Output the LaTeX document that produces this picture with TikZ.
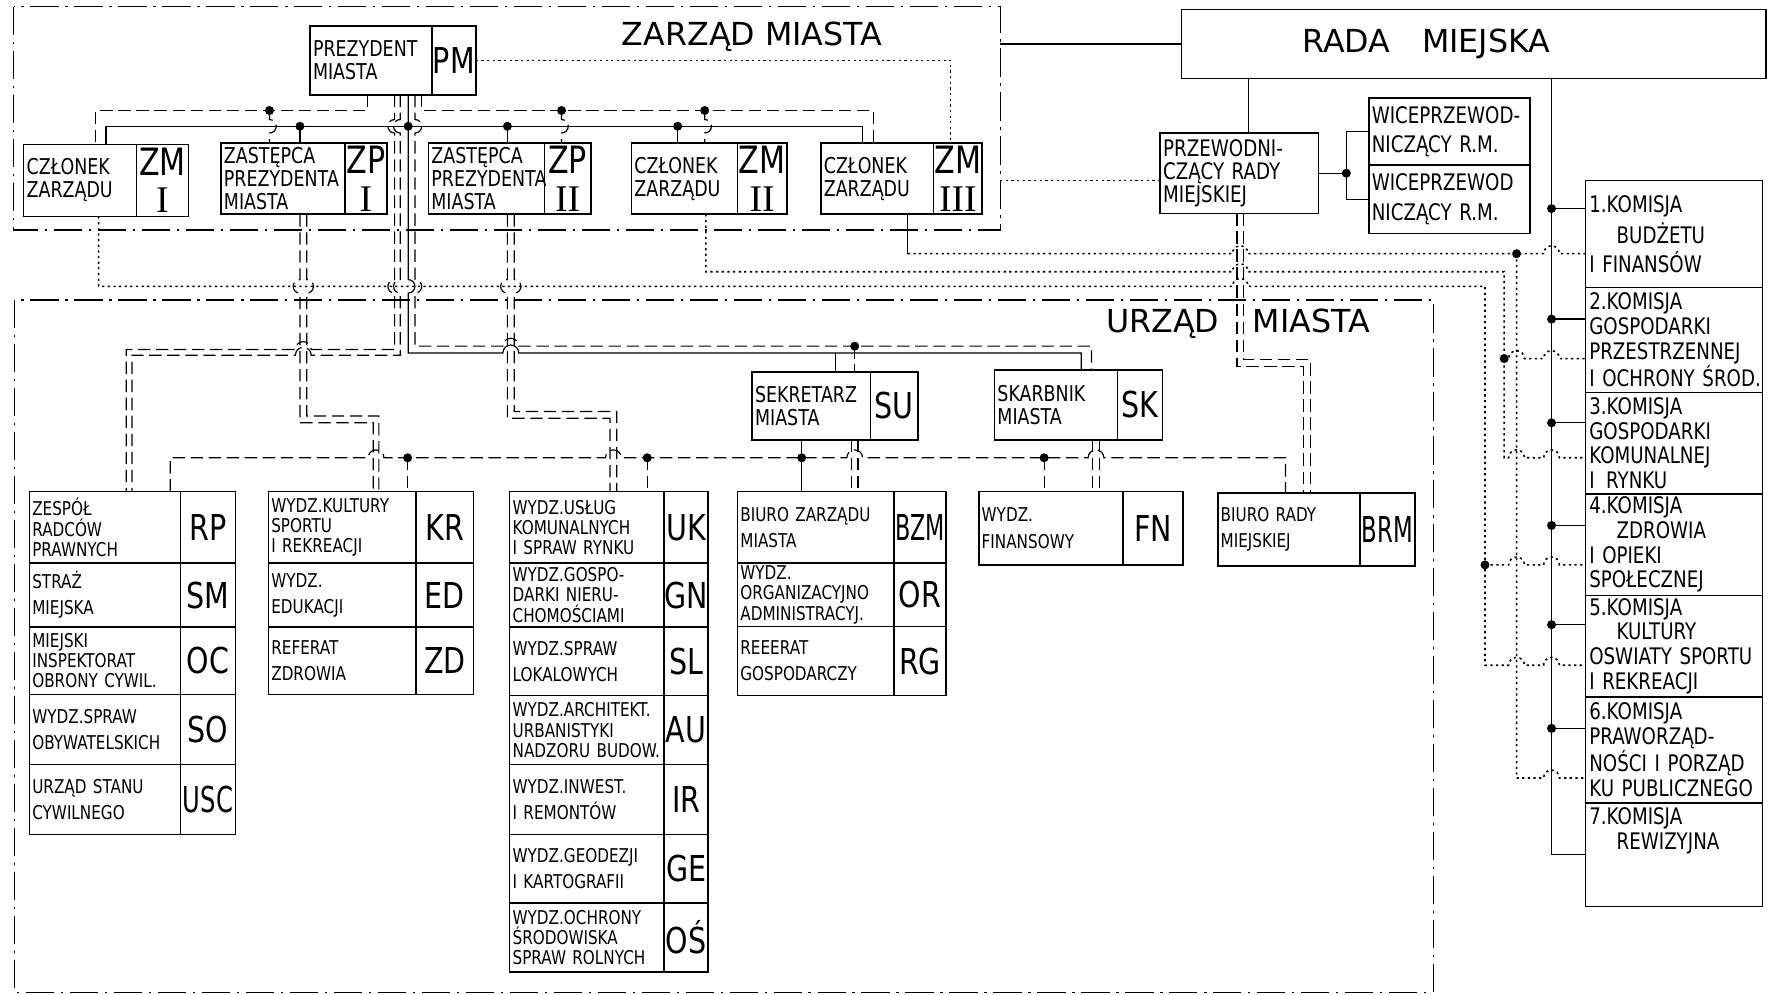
\documentclass[tikz,border=0pt]{standalone}
\usepackage{fontspec}
\usepackage{graphicx}
\setmainfont{DejaVu Sans}[FakeStretch=0.8]
\newfontfamily\titlefont{DejaVu Sans}
\newfontfamily\romanfont{Liberation Serif}
\usetikzlibrary{positioning}
\hyphenpenalty=10000
\exhyphenpenalty=10000

\newdimen\pxu \pxu=0.2mm
\newdimen\boxwa \newdimen\boxwb \newdimen\boxh \newdimen\boxtw
% two-cell box: style, name, x, y, name width, code width, height, text, code
\newcommand{\ubox}[9]{%
  \boxwa=#5\pxu\relax \boxwb=#6\pxu\relax \boxh=#7\pxu\relax
  \boxtw=\boxwa\relax \advance\boxtw by -3pt\relax
  \node[nm-#1, text width=\boxtw, minimum height=\boxh] (#2) at (#3,#4) {#8};
  \node[kd-#1, minimum width=\boxwb, minimum height=\boxh, right=0pt of #2] (#2-k) {#9};}
% line jumps
\newcommand{\jhr}{arc[start angle=180,end angle=0,radius=1.4mm]}
\newcommand{\jhl}{arc[start angle=0,end angle=180,radius=1.4mm]}
\newcommand{\jvr}{arc[start angle=90,end angle=-90,radius=1.2mm]}
\newcommand{\jvl}{arc[start angle=90,end angle=270,radius=1.2mm]}

\begin{document}
\begin{tikzpicture}[x=0.2mm, y=-0.2mm,
  ln/.style={line width=0.6pt},
  dsh/.style={line width=0.6pt, dash pattern=on 2.2mm off 1mm},
  dtt/.style={line width=0.8pt, dash pattern=on 0.4mm off 0.6mm},
  frm/.style={line width=0.6pt, dash pattern=on 5mm off 1.2mm on 0.4mm off 1.2mm},
  cell/.style={draw, line width=0.8pt, outer sep=0pt},
  nm-z/.style={cell, anchor=north west, align=left, inner xsep=1.5pt, inner ysep=1pt, font=\fontsize{11}{11.5}\selectfont},
  nm-u/.style={cell, anchor=north west, align=left, inner xsep=1.5pt, inner ysep=1pt, font=\fontsize{9.6}{10.2}\selectfont},
  kd-z/.style={cell, align=center, inner sep=0pt, font=\fontsize{19}{19}\selectfont},
  kd-u/.style={cell, align=center, inner sep=0pt, font=\fontsize{18}{18}\selectfont},
  kom/.style={cell, anchor=north west, align=left, text width=30mm, inner xsep=2pt, inner ysep=1pt, font=\fontsize{11.5}{12.5}\selectfont},
  ttl/.style={font=\titlefont\fontsize{16}{18}\selectfont}]
\useasboundingbox (0,0) rectangle (1568,882);

% zarzad miasta
\draw[frm] (12,6) rectangle (887,204);
\node[ttl] (zarzad) at (667,33) {ZARZĄD MIASTA};
\ubox{z}{pm}{275}{23}{108}{39}{61}{PREZYDENT\\MIASTA}{\fontsize{18}{18}\selectfont PM}
\ubox{z}{zm1}{21}{128}{100}{46}{64}{CZŁONEK\\ZARZĄDU}{ZM\\{\romanfont I}}
\ubox{z}{zp1}{196}{127}{110}{37}{63}{ZASTĘPCA\\PREZYDENTA\\MIASTA}{ZP\\{\romanfont I}}
\ubox{z}{zp2}{380}{127}{103}{41}{63}{ZASTĘPCA\\PREZYDENTA\\MIASTA}{ZP\\{\romanfont II}}
\ubox{z}{zm2}{560}{127}{94}{44}{63}{CZŁONEK\\ZARZĄDU}{ZM\\{\romanfont II}}
\ubox{z}{zm3}{728}{127}{100}{43}{63}{CZŁONEK\\ZARZĄDU}{ZM\\{\romanfont III}}

% rada miejska
\node[cell, minimum width=103.6mm, minimum height=12.2mm, label={[ttl,xshift=-8.4mm]center:RADA\quad MIEJSKA}] (rada) at (1307,39) {};
\node[cell, anchor=north west, align=left, text width=27mm, inner xsep=1.5pt, minimum height=12.2mm, font=\fontsize{11.5}{11.5}\selectfont] (przew) at (1029,118) {PRZEWODNI-\\CZĄCY RADY\\MIEJSKIEJ};
\node[cell, anchor=north west, align=left, text width=27.5mm, inner xsep=1.5pt, minimum height=11.9mm, font=\fontsize{11.5}{15}\selectfont] (wice1) at (1214,87) {WICEPRZEWOD-\\NICZĄCY~R.M.};
\node[cell, align=left, text width=27.5mm, inner xsep=1.5pt, minimum height=12.1mm, font=\fontsize{11.5}{15}\selectfont, below=0pt of wice1] (wice2) {WICEPRZEWOD\\NICZĄCY~R.M.};
\node[kom, minimum height=19mm] (k1) at (1406,160) {1.KOMISJA\\[2pt]\hspace*{1.2em}BUDŻETU\\[2pt]I~FINANSÓW};
\node[kom, minimum height=18.6mm, below=0pt of k1] (k2) {2.KOMISJA\\GOSPODARKI\\PRZESTRZENNEJ\\I~OCHRONY~ŚROD.};
\node[kom, minimum height=18mm, below=0pt of k2] (k3) {3.KOMISJA\\GOSPODARKI\\KOMUNALNEJ\\I\enspace RYNKU};
\node[kom, minimum height=18mm, below=0pt of k3] (k4) {4.KOMISJA\\\hspace*{1.2em}ZDROWIA\\I~OPIEKI\\SPOŁECZNEJ};
\node[kom, minimum height=18mm, below=0pt of k4] (k5) {5.KOMISJA\\\hspace*{1.2em}KULTURY\\OSWIATY~SPORTU\\I~REKREACJI};
\node[kom, minimum height=18.8mm, below=0pt of k5] (k6) {6.KOMISJA\\PRAWORZĄD-\\NOŚCI~I~PORZĄD\\KU~PUBLICZNEGO};
\node[kom, minimum height=18.4mm, below=0pt of k6] (k7) {7.KOMISJA\\\hspace*{1.2em}REWIZYJNA\\[5mm]\mbox{}};

% urzad miasta
\draw[frm] (13,266) rectangle (1271,880);
\node[ttl] (urzad) at (1098,287) {URZĄD\hspace{6mm}MIASTA};
\ubox{u}{rp}{26}{436}{134}{49}{63.5}{ZESPÓŁ\\RADCÓW\\PRAWNYCH}{RP}
\ubox{u}{sm}{26}{499.5}{134}{49}{56.5}{STRAŻ\\[3pt]MIEJSKA}{SM}
\ubox{u}{oc}{26}{556}{134}{49}{60}{MIEJSKI\\INSPEKTORAT\\OBRONY~CYWIL.}{OC}
\ubox{u}{so}{26}{616}{134}{49}{62}{WYDZ.SPRAW\\[3pt]OBYWATELSKICH}{SO}
\ubox{u}{usc}{26}{678}{134}{49}{62}{URZĄD~STANU\\[3pt]CYWILNEGO}{\scalebox{0.85}[1]{USC}}
\ubox{u}{kr}{238}{436}{131}{51}{63.5}{WYDZ.KULTURY\\SPORTU\\I~REKREACJI}{KR}
\ubox{u}{ed}{238}{499.5}{131}{51}{56.5}{WYDZ.\\[3pt]EDUKACJI}{ED}
\ubox{u}{zd}{238}{556}{131}{51}{60}{REFERAT\\[3pt]ZDROWIA}{ZD}
\ubox{u}{uk}{452}{436}{137}{39}{63.5}{WYDZ.USŁUG\\KOMUNALNYCH\\I~SPRAW~RYNKU}{UK}
\ubox{u}{gn}{452}{499.5}{137}{39}{56.5}{WYDZ.GOSPO-\\DARKI~NIERU-\\CHOMOŚCIAMI}{GN}
\ubox{u}{sl}{452}{556}{137}{39}{61}{WYDZ.SPRAW\\[3pt]LOKALOWYCH}{SL}
\ubox{u}{au}{452}{617}{137}{39}{61}{WYDZ.ARCHITEKT.\\URBANISTYKI\\NADZORU~BUDOW.}{AU}
\ubox{u}{ir}{452}{678}{137}{39}{62}{WYDZ.INWEST.\\[3pt]I~REMONTÓW}{IR}
\ubox{u}{ge}{452}{740}{137}{39}{61}{WYDZ.GEODEZJI\\[3pt]I~KARTOGRAFII}{GE}
\ubox{u}{os}{452}{801}{137}{39}{61}{WYDZ.OCHRONY\\ŚRODOWISKA\\SPRAW~ROLNYCH}{OŚ}
\ubox{u}{bzm}{654}{436}{139}{46}{63.5}{BIURO~ZARZĄDU\\[3pt]MIASTA}{\scalebox{0.78}[1]{BZM}}
\ubox{u}{or}{654}{499.5}{139}{46}{56}{WYDZ.\\ORGANIZACYJNO\\ADMINISTRACYJ.}{OR}
\ubox{u}{rg}{654}{555.5}{139}{46}{61.5}{REEERAT\\[3pt]GOSPODARCZY}{RG}
\ubox{z}{su}{667}{330}{105}{42}{60}{SEKRETARZ\\MIASTA}{\fontsize{18}{18}\selectfont SU}
\ubox{z}{sk}{882}{328}{109}{40}{62}{SKARBNIK\\MIASTA}{\fontsize{18}{18}\selectfont SK}
\ubox{u}{fn}{868}{436}{128}{53}{65}{WYDZ.\\[3pt]FINANSOWY}{FN}
\ubox{u}{brm}{1080}{437}{126}{49}{65}{BIURO~RADY\\[3pt]MIEJSKIEJ}{\scalebox{0.8}[1]{BRM}}

% zarzad connections
\draw[dtt] (pm-k.east) -| (843,0 |- zm3-k.north);
\draw[dsh] (326,0 |- pm.south) |- (85,98) -- (85,0 |- zm1.north);
\draw[dsh] (374,0 |- pm.south) |- (775,98) -- (775,0 |- zm3.north);
\draw[dsh] (239,98) -- (239,106) \jvr -- (239,0 |- zp1.north);
\draw[dsh] (498,98) -- (498,106) \jvr -- (498,0 |- zp2-k.north);
\draw[dsh] (625,98) -- (625,106) \jvr -- (625,0 |- zm2.north);
\draw[ln] (94,0 |- zm1.north) |- (765,112) -- (765,0 |- zm3.north);
\foreach \x/\n in {266/zp1, 450/zp2, 601/zm2} \draw[ln] (\x,112) -- (\x,0 |- \n.north);
\foreach \x/\y in {239/98, 498/98, 625/98, 266/112, 362/112, 450/112, 601/112} \fill (\x,\y) circle[radius=0.8mm];

% trunk from the president
\draw[dsh] (350,0 |- pm.south) -- (350,106) \jvl -- (350,248) \jvl -- (350,310) -- (276,310) \jhl -- (112,310) -- (112,0 |- rp.north);
\draw[dsh] (355,0 |- pm.south) -- (355,106) \jvl -- (355,248) \jvl -- (355,315) -- (276,315) \jhl -- (117,315) -- (117,0 |- rp.north);
\draw[ln] (362,0 |- pm.south) -- (362,248) \jvr -- (362,313) -- (446,313) \jhr -- (959,313) -- (959,0 |- sk.north);
\draw[ln] (741,313) -- (741,0 |- su.north);
\draw[dsh] (368,0 |- pm.south) -- (368,106) \jvr -- (368,248) \jvr -- (368,307) -- (446,307) \jhr -- (968,307) -- (968,0 |- sk.north);
\draw[dsh] (758,307) -- (758,0 |- su.north);
\fill (758,307) circle[radius=0.8mm];

% deputies
\draw[dsh] (266,0 |- zp1.south) -- (266,248) \jvl -- (266,375) -- (331,375) -- (331,0 |- kr.north);
\draw[dsh] (272,0 |- zp1.south) -- (272,248) \jvr -- (272,369) -- (336,369) -- (336,0 |- kr.north);
\draw[dsh] (450,0 |- zp2.south) -- (450,248) \jvl -- (450,371) -- (541,371) -- (541,0 |- uk.north);
\draw[dsh] (456,0 |- zp2.south) -- (456,248) \jvr -- (456,365) -- (547,365) -- (547,0 |- uk.north);

% secretary, treasurer, council chairman
\draw[ln] (711,0 |- su.south) -- (711,0 |- bzm.north);
\draw[dsh] (755,0 |- su.south) -- (755,0 |- bzm.north);
\draw[dsh] (761,0 |- su.south) -- (761,0 |- bzm.north);
\draw[dsh] (969,0 |- sk.south) -- (969,0 |- fn.north);
\draw[dsh] (975,0 |- sk.south) -- (975,0 |- fn.north);
\draw[dsh] (1097,0 |- przew.south) -- (1097,325) -- (1156,325) -- (1156,0 |- brm.north);
\draw[dsh] (1103,0 |- przew.south) -- (1103,319) -- (1162,319) -- (1162,0 |- brm.north);
\draw[dsh] (151,0 |- rp.north) |- (326.5,406) \jhr -- (537,406) \jhr -- (751,406) \jhr -- (965,406) \jhr -| (1140,0 |- brm.north);
\foreach \x/\n in {361.5/kr, 574/uk, 926/fn} \draw[dsh] (\x,406) -- (\x,0 |- \n.north);
\foreach \x in {361.5, 574, 711, 926} \fill (\x,406) circle[radius=0.8mm];

% members to committees
\draw[ln] (805,0 |- zm3.south) -- (805,225);
\draw[dtt] (805,225) -- (1093,225) \jhr -- (1369,225) \jhr -- (k1.west |- 0,225);
\draw[dtt] (1345,225) -- (1345,690) -- (1369,690) \jhr -- (k6.west |- 0,690);
\draw[dtt] (626,0 |- zm2.south) |- (1093,241) \jhr -- (1334,241) -- (1334,406) -- (1338,406) \jhr -- (1369,406) \jhr -- (k3.west |- 0,406);
\draw[dtt] (1334,318) -- (1338,318) \jhr -- (1369,318) \jhr -- (k2.west |- 0,318);
\draw[dtt] (87.5,0 |- zm1.south) |- (1093,254) \jhr -- (1317,254) -- (1317,590) -- (1338,590) \jhr -- (1369,590) \jhr -- (k5.west |- 0,590);
\draw[dtt] (1317,501) -- (1338,501) \jhr -- (1369,501) \jhr -- (k4.west |- 0,501);
\foreach \x/\y in {1345/225, 1334/318, 1317/501} \fill (\x,\y) circle[radius=0.8mm];

% council links
\draw[ln] (887,0 |- rada.west) -- (rada.west);
\draw[dtt] (887,160) -- (przew.west |- 0,160);
\draw[ln] (1107,0 |- rada.south) -- (1107,0 |- przew.north);
\draw[ln] (przew.east) -- (1194,0 |- przew.east);
\draw[ln] (wice1.west) -| (1194,0 |- wice2.west) -- (wice2.west);
\fill (1194,0 |- przew.east) circle[radius=0.8mm];
\draw[ln] (1376,0 |- rada.south) |- (k7.west |- 0,758);
\foreach \k/\y in {k1/185, k2/283, k3/375, k4/466, k5/554, k6/646} {
  \draw[ln] (1376,\y) -- (\k.west |- 0,\y);
  \fill (1376,\y) circle[radius=0.8mm];}
\end{tikzpicture}
\end{document}
